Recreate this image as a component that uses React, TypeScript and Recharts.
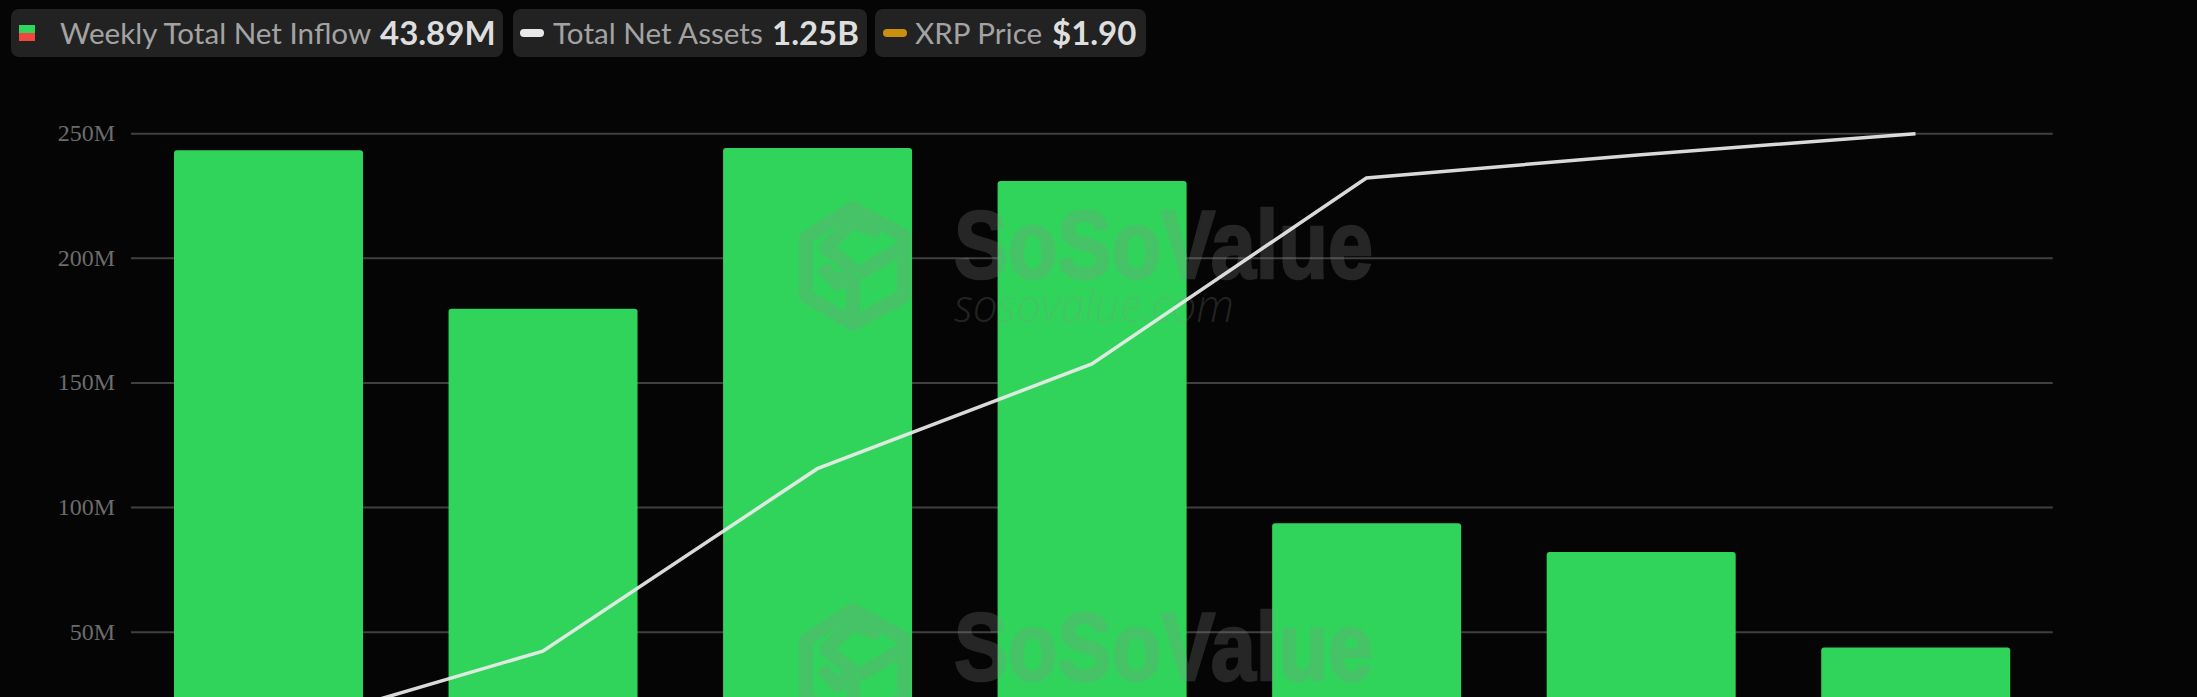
import { ComposedChart, Bar, Line, XAxis, YAxis, CartesianGrid } from "recharts";

const weeks = ["W1", "W2", "W3", "W4", "W5", "W6", "W7"];
const netInflow = [243.4, 179.8, 244.3, 231, 93.7, 82.2, 43.89];
const netAssets = [250, 385, 690, 865, 1176, 1215, 1250];
const leftTicks = [50, 100, 150, 200, 250];
const rightTicks = [400, 600, 800, 1000, 1200, 1250];

const chartData = weeks.map((week, i) => ({ week, inflow: netInflow[i], assets: netAssets[i] }));

const fmtLeft = (v: number) => `${v}M`;
const fmtRight = (v: number) => (v >= 1000 ? `${v / 1000}B` : `${v}M`);

const leftTick = { fill: "#6c6c6c", fontSize: 24, fontFamily: "Liberation Serif", dy: -1 };
const rightTick = { fill: "#6c6c6c", fontSize: 23.5, fontFamily: "Liberation Serif", dy: -2.5 };

const CHART_W = 2197;
const CHART_H = 900;
const PLOT_TOP = 133.7;
const PLOT_BOTTOM = 18.6;
const PLOT_LEFT = 131;
const PLOT_RIGHT = 144.25;
const HALF_BAND = (CHART_W - PLOT_LEFT - PLOT_RIGHT) / weeks.length / 2;

const layer: React.CSSProperties = { position: "absolute", left: 0, top: 0 };

const Logo = ({ dy }: { dy: number }) => (
  <g transform={`translate(0 ${dy})`} fill="none" stroke="#8e8e8e" strokeWidth={14} strokeLinejoin="round" opacity={0.24}>
    <path d="M853 208 L904 236 L904 296 L853 324 L806 296 L806 238 Z M880 232 L852 222 L826 248 L852 268 L838 284 L822 266 M853 276 L853 322 M858 274 L902 248" />
  </g>
);

const BrandText = ({ y }: { y: number }) => (
  <text x={954} y={y} fill="#8e8e8e" stroke="#8e8e8e" strokeWidth={2.5} opacity={0.24} fontFamily="Liberation Sans" fontWeight={700} fontSize={97} textLength={419} lengthAdjust="spacingAndGlyphs">
    SoSoValue
  </text>
);

const chipBase: React.CSSProperties = {
  position: "absolute", top: 9, height: 48, background: "#222222", borderRadius: 8,
};

const LegendChip = ({ left, width, label, labelX, value, valueX, children }: {
  left: number; width: number; label: string; labelX: number; value: string; valueX: number; children: React.ReactNode;
}) => (
  <div style={{ ...chipBase, left, width }}>
    {children}
    <span style={{ position: "absolute", left: labelX - left, top: 7, fontSize: 29.6, lineHeight: "33px", color: "#a3a3a3", whiteSpace: "nowrap" }}>{label}</span>
    <span style={{ position: "absolute", left: valueX - left, top: 7, fontSize: 33, lineHeight: "33px", fontWeight: 700, color: "#dedede", whiteSpace: "nowrap" }}>{value}</span>
  </div>
);

const Pill = ({ x, color }: { x: number; color: string }) => (
  <div style={{ position: "absolute", left: x, top: 20, width: 24, height: 8, borderRadius: 4, background: color }} />
);

export default function App() {
  return (
    <div style={{ position: "fixed", left: 0, top: 0, width: 2197, height: 697, overflow: "hidden", background: "#050505", fontFamily: "Lato" }}>
      {/* bars and axes sit under the watermark, the line sits over it */}
      <div style={layer}>
        <ComposedChart
          width={CHART_W}
          height={CHART_H}
          data={chartData}
          margin={{ top: PLOT_TOP, right: 0, bottom: PLOT_BOTTOM, left: 0 }}
          barCategoryGap={0}
        >
          <CartesianGrid yAxisId="left" vertical={false} stroke="#404040" strokeWidth={2} />
          <XAxis dataKey="week" hide />
          <YAxis
            yAxisId="left"
            domain={[-50, 250]}
            ticks={leftTicks}
            tickFormatter={fmtLeft}
            width={PLOT_LEFT}
            axisLine={false}
            tickLine={false}
            tickSize={0}
            tickMargin={16}
            tick={leftTick}
          />
          <YAxis
            yAxisId="right"
            orientation="right"
            domain={[0, 1250]}
            ticks={rightTicks}
            tickFormatter={fmtRight}
            width={PLOT_RIGHT}
            axisLine={false}
            tickLine={false}
            tickSize={0}
            tickMargin={18}
            tick={rightTick}
            interval={0}
          />
          <Bar yAxisId="left" dataKey="inflow" fill="#31d45b" barSize={189} radius={[3, 3, 0, 0]} isAnimationActive={false} />
        </ComposedChart>
      </div>

      <svg width={2197} height={697} style={layer}>
        <Logo dy={0} />
        <Logo dy={402} />
        <BrandText y={278} />
        <BrandText y={680} />
        <text x={954} y={322} fill="#8e8e8e" fillOpacity={0.24} fontFamily="Open Sans" fontStyle="italic" fontWeight={300} fontSize={46} textLength={280} lengthAdjust="spacingAndGlyphs">
          sosovalue.com
        </text>
      </svg>

      <div style={layer}>
        <ComposedChart
          width={CHART_W}
          height={CHART_H}
          data={chartData}
          margin={{ top: PLOT_TOP, right: PLOT_RIGHT, bottom: PLOT_BOTTOM, left: PLOT_LEFT }}
        >
          <XAxis dataKey="week" hide padding={{ left: HALF_BAND, right: HALF_BAND }} />
          <YAxis domain={[0, 1250]} hide />
          <Line
            dataKey="assets"
            type="linear"
            stroke="#ececec"
            strokeOpacity={0.92}
            strokeWidth={3.5}
            dot={false}
            isAnimationActive={false}
          />
        </ComposedChart>
      </div>

      <LegendChip left={11} width={492} label="Weekly Total Net Inflow" labelX={60} value="43.89M" valueX={380}>
        <div style={{ position: "absolute", left: 8, top: 16, width: 16, height: 8, background: "#32d55c" }} />
        <div style={{ position: "absolute", left: 8, top: 24, width: 16, height: 8, background: "#f0483e" }} />
      </LegendChip>
      <LegendChip left={513} width={354} label="Total Net Assets" labelX={553} value="1.25B" valueX={772}>
        <Pill x={7} color="#e8e8e8" />
      </LegendChip>
      <LegendChip left={875} width={271} label="XRP Price" labelX={915} value="$1.90" valueX={1052}>
        <Pill x={8} color="#c8900f" />
      </LegendChip>
    </div>
  );
}
